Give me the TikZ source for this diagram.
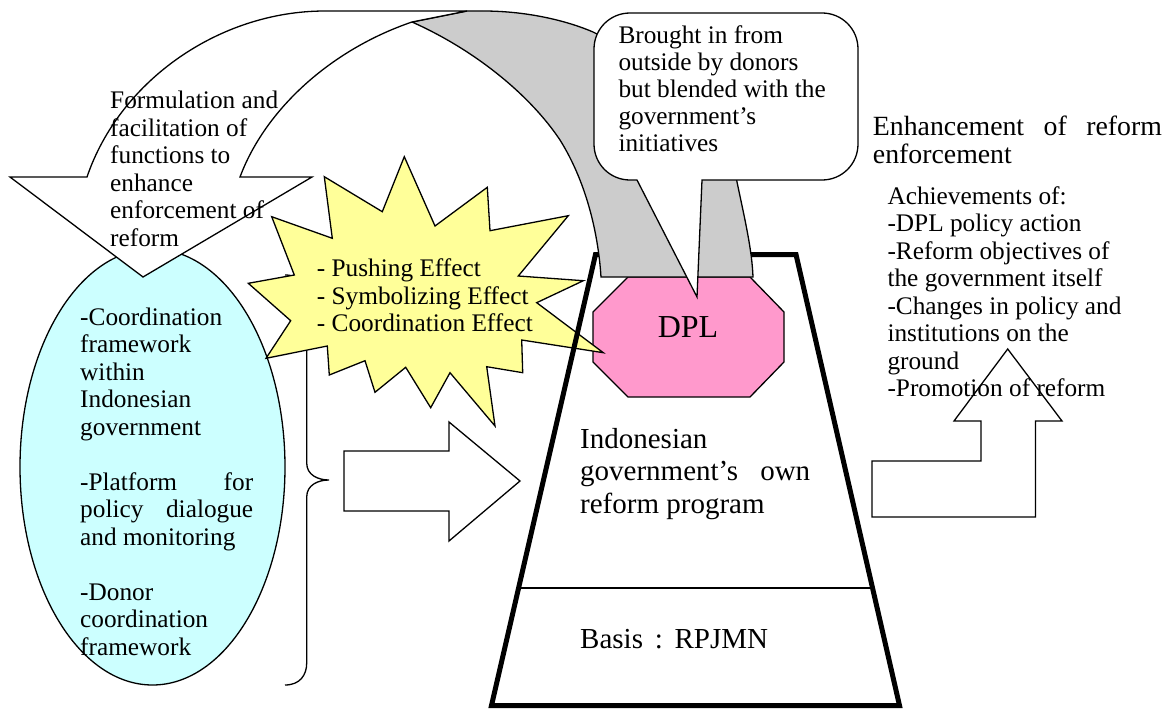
\documentclass[tikz,border=0pt]{standalone}
\usepackage{fontspec}
\setmainfont{Liberation Serif}
\usetikzlibrary{calc}
\definecolor{bandgray}{RGB}{204,204,204}
\definecolor{starfill}{RGB}{255,255,153}
\definecolor{pinkfill}{RGB}{255,153,204}
\definecolor{cyanfill}{RGB}{204,255,255}
\begin{document}
\begin{tikzpicture}[x=1pt,y=-1pt,line join=miter,
  outline/.style={draw=black,line width=1.3pt},
  txt/.style={inner sep=0pt,anchor=base west,font=\fontsize{25.3}{27.5}\selectfont},
  bigtxt/.style={inner sep=0pt,anchor=base west,font=\fontsize{29}{32.4}\selectfont},
  headtxt/.style={inner sep=0pt,anchor=base west,font=\fontsize{27.8}{28.3}\selectfont}]
\useasboundingbox (0,0) rectangle (1173,709);

% ellipse
\draw[outline,fill=cyanfill] (152.5,467) ellipse [x radius=132.5, y radius=218];

% brace
\draw[outline] (285,275) .. controls (300,275) and (306.7,285) .. (306.7,297)
  -- (306.7,463) .. controls (306.7,475) and (318,480) .. (329,480)
  .. controls (318,480) and (306.7,485) .. (306.7,497)
  -- (306.7,663) .. controls (306.7,675) and (300,685) .. (285,685);

% block arrows
\draw[outline,fill=white] (344,451) -- (449,451) -- (449,422) -- (520,481) -- (449,541) -- (449,511) -- (344,511) -- cycle;
\draw[outline] (872,461) -- (981,461) -- (981,421) -- (954,421) -- (1007.7,349) -- (1062,421) -- (1035.5,421) -- (1035.5,517) -- (872,517) -- cycle;

% DPL octagon
\draw[outline,fill=pinkfill] (628,277) -- (750,277) -- (784,312) -- (784,362) -- (750,397) -- (628,397) -- (593,362) -- (593,312) -- cycle;

% star
\draw[outline,fill=starfill] (404.3,156.7) -- (435,226) -- (487.3,187.3) -- (490,230.7) -- (568.3,215.7) -- (518.3,276) -- (583.3,280.7) -- (536.7,302.7) -- (603.3,352.7) -- (521.7,340) -- (522.7,372.7) -- (486.7,366.7) -- (495,426) -- (450,372.7) -- (430.7,407.7) -- (405.7,367.3) -- (375,392.3) -- (365,360.7) -- (329.3,375) -- (327.3,346) -- (266,358.3) -- (290.7,320.7) -- (248.3,283.3) -- (294.3,275) -- (271.7,216.7) -- (332.3,238.3) -- (324.3,176.7) -- (382.3,211.7) -- cycle;

% trapezoid
\coordinate (TL) at (595.5,254.5);
\coordinate (TR) at (796,254.5);
\coordinate (BR) at (899.5,705.5);
\coordinate (BL) at (491.5,705.5);
\draw[line width=5pt] (TL) -- (TR) -- (BR) -- (BL) -- cycle;
\draw[outline] ($(TL)!0.7395!(BL)$) -- ($(TR)!0.7395!(BR)$);

% curved arrow: back face (gray)
\draw[outline,fill=bandgray] (412,22) -- (467,11) -- (483,11)
  .. controls (530,11) and (570,22) .. (593,32)
  .. controls (680,75) and (730,130) .. (737,182)
  .. controls (745,220) and (752,250) .. (753,277)
  -- (601,277)
  .. controls (598,230) and (585,180) .. (560,140)
  .. controls (530,95) and (475,50) .. (412,22) -- cycle;
% front face (white) with arrowhead
\draw[outline,fill=white] (10,177) -- (87,177)
  .. controls (120,80) and (220,11) .. (325,11)
  -- (467,11) -- (412,22)
  .. controls (330,50) and (265,110) .. (240,177)
  -- (312,177) -- (143,277) -- cycle;

% callout
\draw[outline,fill=white] (697,297) -- (637,180) -- (630,180)
  .. controls (610,180) and (594,164) .. (594,144) -- (594,49)
  .. controls (594,29) and (610,13) .. (630,13) -- (822,13)
  .. controls (842,13) and (858,29) .. (858,49) -- (858,144)
  .. controls (858,164) and (842,180) .. (822,180) -- (702,180) -- cycle;

% texts
\node[txt] (formtext) at (110,108.7) {\vtop{\hbox{Formulation and}\hbox{facilitation of}\hbox{functions to}\hbox{enhance}\hbox{enforcement of}\hbox{reform}}};
\node[txt] (startext) at (316.7,276.7) {\vtop{\hbox{- Pushing Effect}\hbox{- Symbolizing Effect}\hbox{- Coordination Effect}}};
\node[txt] (elltext) at (80,325) {\vtop{\hbox{-Coordination}\hbox{framework}\hbox{within}\hbox{Indonesian}\hbox{government}\hbox{}\hbox to 173pt{-Platform\hfill for}\hbox to 173pt{policy\hfill dialogue}\hbox{and monitoring}\hbox{}\hbox{-Donor}\hbox{coordination}\hbox{framework}}};
\node[txt,font=\fontsize{25.3}{27.1}\selectfont] (callouttext) at (618.3,43.3) {\vtop{\hbox{Brought in from}\hbox{outside by donors}\hbox{but blended with the}\hbox{government’s}\hbox{initiatives}}};
\node[headtxt] (headtext) at (872.7,135) {\vtop{\hbox to 289pt{Enhancement\hfill of\hfill reform}\hbox{enforcement}}};
\node[txt] (achtext) at (887.3,204.3) {\vtop{\hbox{Achievements of:}\hbox{-DPL policy action}\hbox{-Reform objectives of}\hbox{the government itself}\hbox{-Changes in policy and}\hbox{institutions on the}\hbox{ground}\hbox{-Promotion of reform}}};
\node[bigtxt] (progtext) at (580,448.3) {\vtop{\hbox{Indonesian}\hbox to 230pt{government’s\hfill own}\hbox{reform program}}};
\node[bigtxt] (basistext) at (580,648.3) {Basis\hbox to 31.6pt{\hfil:\hfil}RPJMN};
\node[inner sep=0pt,anchor=base,font=\fontsize{32}{36}\selectfont] (dpl) at (688,337.3) {DPL};
\end{tikzpicture}
\end{document}
